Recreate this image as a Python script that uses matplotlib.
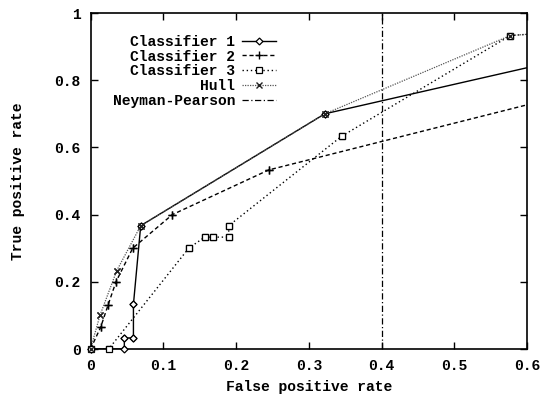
import numpy as np
import matplotlib
matplotlib.use('Agg')
import matplotlib.pyplot as plt

## Données

c1_x = [0, 0.0465, 0.0465, 0.059, 0.059, 0.069, 0.322, 0.93]
c1_y = [0, 0, 0.033, 0.033, 0.133, 0.367, 0.7, 1.0]

c2_x = [0, 0.014, 0.024, 0.035, 0.058, 0.1125, 0.245, 1.0]
c2_y = [0, 0.065, 0.13, 0.2, 0.3, 0.4, 0.533, 0.945]

c3_x = [0, 0.025, 0.135, 0.157, 0.168, 0.19, 0.19, 0.345, 0.577, 1.0]
c3_y = [0, 0, 0.3, 0.333, 0.333, 0.333, 0.367, 0.633, 0.933, 1.0]

hull_x = [0, 0.013, 0.036, 0.069, 0.322, 0.577, 1.0]
hull_y = [0, 0.1, 0.233, 0.367, 0.7, 0.933, 1.0]

np_x = 0.4

x_ticks = [0, 0.1, 0.2, 0.3, 0.4, 0.5, 0.6]
x_labels = ['0', '0.1', '0.2', '0.3', '0.4', '0.5', '0.6']
y_ticks = [0, 0.2, 0.4, 0.6, 0.8, 1]
y_labels = ['0', '0.2', '0.4', '0.6', '0.8', '1']

## Tracé

plt.rcParams['font.family'] = ['Liberation Mono', 'DejaVu Sans Mono']
plt.rcParams['font.weight'] = 'bold'
plt.rcParams['font.size'] = 10.5

fig = plt.figure(figsize=(5.4, 4.07), dpi=100)
ax = fig.add_axes([0.1676, 0.1425, 0.8084, 0.8255])

styles = [
    (c1_x, c1_y, 'Classifier 1', dict(color='black', lw=1.0, ls='-', marker='D', ms=3.5,
                                      mfc='white', mec='black', mew=0.9)),
    (c2_x, c2_y, 'Classifier 2', dict(color='black', lw=1.0, ls=(0, (3, 2)), marker='+',
                                      ms=6, mew=1.0)),
    (c3_x, c3_y, 'Classifier 3', dict(color='black', lw=1.0, ls=(0, (1, 2)), marker='s',
                                      ms=5, mfc='white', mec='black', mew=0.9)),
    (hull_x, hull_y, 'Hull', dict(color='#555555', lw=0.9, ls=(0, (1, 1)), marker='x',
                                  ms=4.5, mew=1.0, mec='#222222')),
]

for xs, ys, lab, st in styles:
    ax.plot(xs, ys, label=lab, **st)
    # marqueurs non coupés sur les bords
    xs = np.array(xs)
    ys = np.array(ys)
    ok = (xs <= 0.6) & (ys <= 1)
    mst = dict(st)
    mst['ls'] = 'none'
    ax.plot(xs[ok], ys[ok], clip_on=False, zorder=3, **mst)

ax.axvline(np_x, color='black', lw=0.9, ls=(0, (5, 2, 1, 2)), label='Neyman-Pearson')

ax.set_xlim(0, 0.6)
ax.set_ylim(0, 1)
ax.set_xticks(x_ticks)
ax.set_xticklabels(x_labels, fontweight='bold')
ax.set_yticks(y_ticks)
ax.set_yticklabels(y_labels, fontweight='bold')
ax.tick_params(direction='in', top=True, right=True, length=5, width=1, pad=7)
for s in ax.spines.values():
    s.set_linewidth(1.2)

ax.set_xlabel('False positive rate', labelpad=5, fontweight='bold')
ax.set_ylabel('True positive rate', labelpad=21, fontweight='bold')

ax.legend(loc='upper right', bbox_to_anchor=(0.425, 0.935), markerfirst=False,
          frameon=False, handlelength=2.3, handletextpad=0.5, labelspacing=0.05,
          borderaxespad=0, borderpad=0, prop={'weight': 'bold'})

fig.savefig('out.png', dpi=100)
